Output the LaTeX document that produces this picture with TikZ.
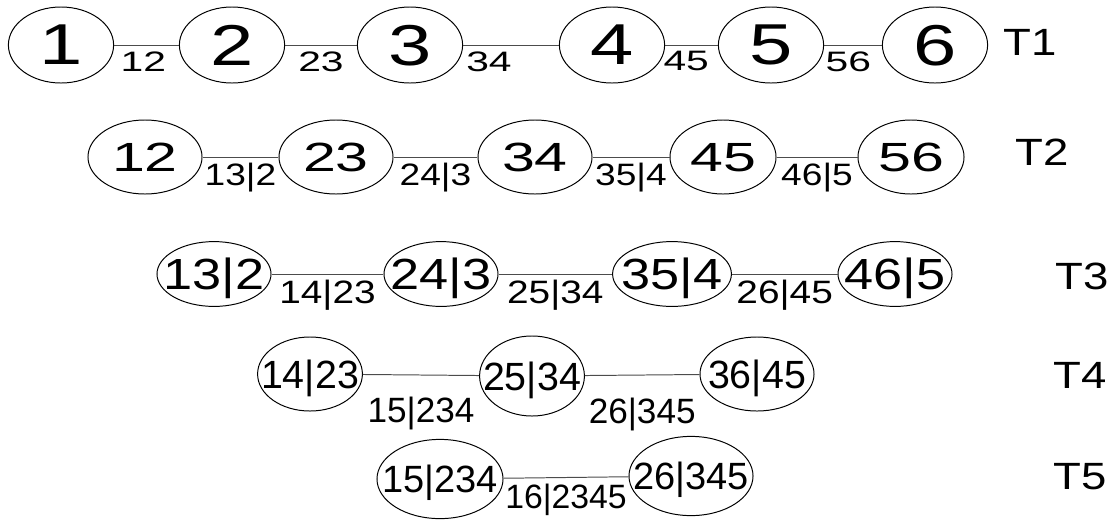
\documentclass[tikz,border=0pt]{standalone}
\usepackage{fontspec}
\setmainfont{Liberation Sans}
\newfontfamily\fontX[FakeStretch=1.35]{Liberation Sans}
\newfontfamily\fontW[FakeStretch=1.45]{Liberation Sans}
\newfontfamily\fontM[FakeStretch=1.2]{Liberation Sans}
\usetikzlibrary{shapes.geometric, positioning}

\begin{document}
\begin{tikzpicture}[
    x=0.025cm, y=-0.025cm,
    cnode/.style={ellipse, draw, line width=0.7pt, inner sep=0pt,
                  text depth=0pt,
                  execute at begin node=\hbox to 0pt\bgroup\hss,
                  execute at end node=\hss\egroup},
    rowone/.style={cnode, font=\fontX\fontsize{41}{44}\selectfont,
                   minimum width=2.63cm, minimum height=1.9cm},
    rowtwo/.style={cnode, font=\fontW\fontsize{29}{32}\selectfont,
                   minimum width=2.85cm, minimum height=1.85cm},
    rowthree/.style={cnode, font=\fontM\fontsize{31}{34}\selectfont,
                   minimum width=2.85cm, minimum height=1.62cm},
    rowfour/.style={cnode, font=\fontsize{28}{32}\selectfont,
                   minimum width=2.62cm, minimum height=1.85cm},
    rowfive/.style={cnode, font=\fontsize{27}{30}\selectfont,
                   minimum width=3.15cm, minimum height=1.98cm},
    eline/.style={line width=0.7pt, black!70},
    elab/.style={inner sep=0pt, below=1.5mm, text=black},
    tlab/.style={font=\fontM\fontsize{27}{30}\selectfont},
]
\useasboundingbox (0,0) rectangle (1117,521);
% Tree T1: the six variables.
\node[rowone] (t1n1) at (61, 45) {1};
\node[rowone] (t1n2) at (232, 45) {2};
\node[rowone] (t1n3) at (410, 45) {3};
\node[rowone] (t1n4) at (612, 45) {4};
\node[rowone] (t1n5) at (771, 45) {5};
\node[rowone] (t1n6) at (935, 45) {6};
\node[tlab] (t1) at (1030, 42) {T1};
\foreach \a/\b/\e/\p in {1/2/12/0.45, 2/3/23/0.5, 3/4/34/0.27, 4/5/45/0.4, 5/6/56/0.42}
  \draw[eline] (t1n\a) -- (t1n\b)
    node[pos=\p, elab, font=\fontW\fontsize{20}{22}\selectfont] {\e};
% Tree T2.
\node[rowtwo] (t2n1) at (145, 157) {12};
\node[rowtwo] (t2n2) at (336, 157) {23};
\node[rowtwo] (t2n3) at (535, 157) {34};
\node[rowtwo, minimum width=2.65cm] (t2n4) at (723, 157) {45};
\node[rowtwo, minimum width=2.65cm] (t2n5) at (911, 157) {56};
\node[tlab] (t2) at (1042, 152) {T2};
\foreach \a/\b/\e in {1/2/13|2, 2/3/24|3, 3/4/35|4, 4/5/46|5}
  \draw[eline] (t2n\a) -- (t2n\b)
    node[midway, elab, font=\fontM\fontsize{22}{24}\selectfont] {\e};
% Tree T3.
\node[rowthree] (t3n1) at (214, 274) {13|2};
\node[rowthree] (t3n2) at (441, 274) {24|3};
\node[rowthree, minimum width=2.97cm] (t3n3) at (672, 274) {35|4};
\node[rowthree] (t3n4) at (895, 274) {46|5};
\node[tlab] (t3) at (1082, 276) {T3};
\foreach \a/\b/\e in {1/2/14|23, 2/3/25|34, 3/4/26|45}
  \draw[eline] (t3n\a) -- (t3n\b)
    node[midway, elab, font=\fontM\fontsize{23}{25}\selectfont] {\e};
% Tree T4.
\node[rowfour] (t4n1) at (310, 374) {14|23};
\node[rowfour, minimum height=2cm] (t4n2) at (532, 376) {25|34};
\node[rowfour, minimum width=2.85cm] (t4n3) at (757, 374) {36|45};
\node[tlab] (t4) at (1080, 375) {T4};
\foreach \a/\b/\e in {1/2/15|234, 2/3/26|345}
  \draw[eline] (t4n\a) -- (t4n\b)
    node[midway, elab, below=5.5mm, font=\fontsize{25}{27}\selectfont] {\e};
% Tree T5.
\node[rowfive] (t5n1) at (440, 479) {15|234};
\node[rowfive, minimum width=3.1cm] (t5n2) at (691, 476) {26|345};
\node[tlab] (t5) at (1080, 477) {T5};
\draw[eline] (t5n1) -- (t5n2)
  node[midway, elab, font=\fontsize{24}{26}\selectfont] {16|2345};
\end{tikzpicture}
\end{document}
